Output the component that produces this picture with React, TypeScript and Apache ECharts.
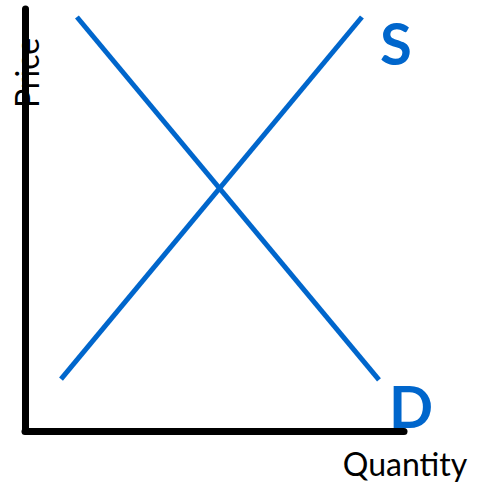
import React, { useEffect, useRef } from "react";
import * as echarts from "echarts";

const supplyPoints: [number, number][] = [
  [9.5, 12.3],
  [88.9, 98.1],
];
const demandPoints: [number, number][] = [
  [13.7, 98.1],
  [93.4, 12.1],
];
const curveNames = ["S", "D"];
const axisNames = ["Quantity", "Price"];

export default function App() {
  const ref = useRef<HTMLDivElement>(null);
  useEffect(() => {
    if (!ref.current) return;
    const chart = echarts.init(ref.current, null, { renderer: "svg" });
    const blue = "#0066cc";
    chart.setOption({
      animation: false,
      grid: { left: 25, top: 9, width: 379, height: 422, containLabel: false },
      xAxis: {
        type: "value",
        min: 0,
        max: 100,
        axisLine: { show: true, lineStyle: { color: "#000", width: 7 } },
        axisTick: { show: false },
        axisLabel: { show: false },
        splitLine: { show: false },
      },
      yAxis: {
        type: "value",
        min: 0,
        max: 100,
        axisLine: { show: true, lineStyle: { color: "#000", width: 7 } },
        axisTick: { show: false },
        axisLabel: { show: false },
        splitLine: { show: false },
      },
      series: [
        {
          name: curveNames[0],
          type: "line",
          data: supplyPoints,
          symbol: "none",
          lineStyle: { color: blue, width: 5, cap: "butt" },
          z: 3,
        },
        {
          name: curveNames[1],
          type: "line",
          data: demandPoints,
          symbol: "none",
          lineStyle: { color: blue, width: 5, cap: "butt" },
          z: 3,
        },
      ],
      graphic: [
        {
          type: "text",
          x: 396,
          y: 42,
          style: {
            text: curveNames[0],
            fill: blue,
            font: "bold 58px Lato",
            textAlign: "center",
            textVerticalAlign: "middle",
          },
        },
        {
          type: "text",
          x: 411,
          y: 405,
          style: {
            text: curveNames[1],
            fill: blue,
            font: "bold 58px Lato",
            textAlign: "center",
            textVerticalAlign: "middle",
          },
        },
        {
          type: "text",
          x: 405,
          y: 463,
          style: {
            text: axisNames[0],
            fill: "#000",
            font: "32px Lato",
            textAlign: "center",
            textVerticalAlign: "middle",
          },
        },
        {
          type: "text",
          x: 26,
          y: 73,
          rotation: Math.PI / 2,
          z: -1,
          style: {
            text: axisNames[1],
            fill: "#000",
            font: "32px Lato",
            textAlign: "center",
            textVerticalAlign: "middle",
          },
        },
      ],
    });
    return () => chart.dispose();
  }, []);
  return (
    <div
      ref={ref}
      style={{ position: "fixed", left: 0, top: 0, width: 479, height: 483, background: "#fff" }}
    />
  );
}
